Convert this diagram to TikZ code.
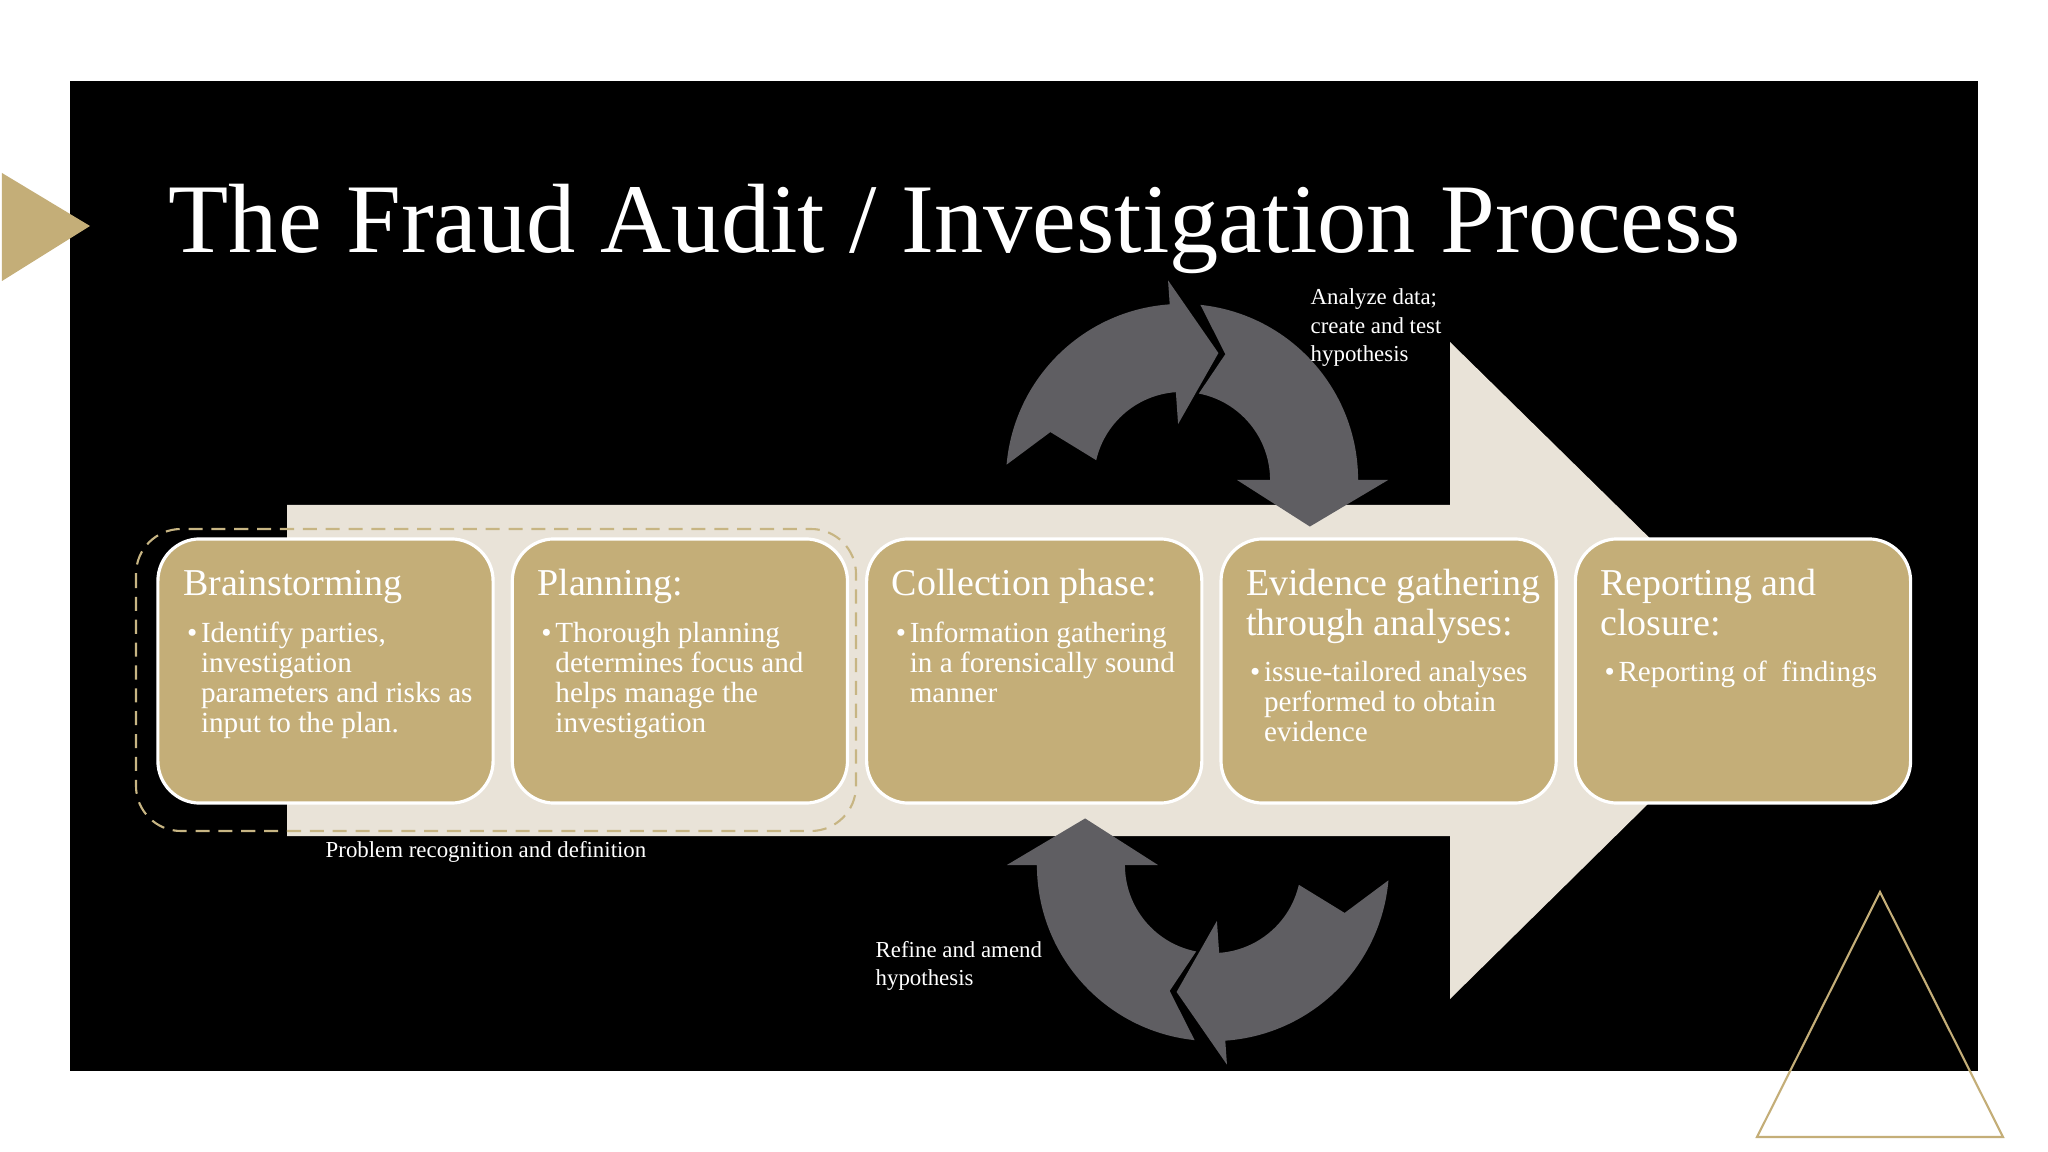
\documentclass[tikz,border=0pt]{standalone}
\usepackage{fontspec}
\setmainfont{Liberation Serif}
\usetikzlibrary{positioning}
\definecolor{gold}{HTML}{C4AE78}
\definecolor{cream}{HTML}{E9E3D8}
\definecolor{cyclegray}{HTML}{5F5E62}
\definecolor{dashgold}{HTML}{C7B583}
\newcommand{\bulletlines}[1]{\makebox[0.14cm][l]{\textbullet}\parbox[t]{3cm}{#1}}

\begin{document}
\begin{tikzpicture}[
        x=0.01cm, y=-0.01cm,
        node distance=0.16cm,
        stagebox/.style={draw=white, line width=0.9pt, fill=gold, rounded corners=0.42cm, minimum width=3.35cm, minimum height=2.64cm, inner sep=0pt},
        stagetitle/.style={anchor=base west, inner sep=0pt, text=white, font=\fontsize{10.8}{11.4}\selectfont},
        stagebody/.style={anchor=base west, inner sep=0pt, text=white, font=\fontsize{8.3}{8.5}\selectfont},
        smalllabel/.style={anchor=base west, inner sep=0pt, text=white, font=\fontsize{6.5}{8}\selectfont},
        cyclearrow/.style={fill=cyclegray}
        ]
        \useasboundingbox (0,0) rectangle (2048,1152);
        \fill[white] (0,0) rectangle (2048,1152);
        \fill[black] (70,81) rectangle (1978,1071);
        \fill[gold] (2,173) -- (90,226) -- (2,281) -- cycle;
        \draw[gold, line width=0.6pt] (1880,892) -- (2003,1137) -- (1757,1137) -- cycle;
        % big process arrow
        \fill[cream] (287,505) -- (1450,505) -- (1450,342) -- (1784,670) -- (1450,999) -- (1450,836) -- (287,836) -- cycle;

        % cycle arrows above and below
        \foreach \cx/\cy/\rot in {1182/480/0, 1213/865/180}{
            \begin{scope}[shift={(\cx,\cy)}, rotate=\rot]
                \fill[cyclearrow] (175:1.76cm) arc[start angle=175, end angle=94, radius=1.76cm] -- (94:2.0cm) -- (74:1.32cm) -- (94:0.56cm) -- (94:0.88cm) arc[start angle=94, end angle=167, radius=0.88cm] -- (160:1.40cm) -- cycle;
                \fill[cyclearrow] (84:1.76cm) arc[start angle=84, end angle=0, radius=1.76cm] -- (0:2.06cm) -- (-20:1.36cm) -- (0:0.55cm) -- (0:0.88cm) arc[start angle=0, end angle=79, radius=0.88cm] -- (71:1.33cm) -- cycle;
            \end{scope}
        }

        \draw[dashgold, line width=0.6pt, dash pattern=on 4pt off 2.5pt, rounded corners=0.45cm] (136,529) rectangle (856,831);

        \node[anchor=base west, inner sep=0pt, text=white, font=\fontsize{28}{30}\selectfont] (title) at (168,253) {The Fraud Audit / Investigation Process};

        \node[stagebox] (brain) at (325.5,671) {};
        \node[stagebox, right=of brain] (plan) {};
        \node[stagebox, right=of plan] (collect) {};
        \node[stagebox, right=of collect] (evidence) {};
        \node[stagebox, right=of evidence] (report) {};

        \node[stagetitle] (braintitle) at ([shift={(26,58)}]brain.north west) {Brainstorming};
        \node[stagebody] (brainbody) at ([shift={(30,105)}]brain.north west) {\bulletlines{Identify parties,\\investigation\\parameters and risks as\\input to the plan.}};
        \node[stagetitle] (plantitle) at ([shift={(26,58)}]plan.north west) {Planning:};
        \node[stagebody] (planbody) at ([shift={(30,105)}]plan.north west) {\bulletlines{Thorough planning\\determines focus and\\helps manage the\\investigation}};
        \node[stagetitle] (collecttitle) at ([shift={(26,58)}]collect.north west) {Collection phase:};
        \node[stagebody] (collectbody) at ([shift={(30,105)}]collect.north west) {\bulletlines{Information gathering\\in a forensically sound\\manner}};
        \node[stagetitle] (evidencetitle) at ([shift={(26,58)}]evidence.north west) {\parbox[t]{3.2cm}{Evidence gathering\\through analyses:}};
        \node[stagebody] (evidencebody) at ([shift={(30,144)}]evidence.north west) {\bulletlines{issue-tailored analyses\\performed to obtain\\evidence}};
        \node[stagetitle] (reporttitle) at ([shift={(26,58)}]report.north west) {\parbox[t]{3.2cm}{Reporting and\\closure:}};
        \node[stagebody] (reportbody) at ([shift={(30,144)}]report.north west) {\bulletlines{Reporting of~ findings}};

        \node[smalllabel] (analyze) at (1310,305) {\parbox[t]{2cm}{Analyze data;\\create and test\\hypothesis}};
        \node[smalllabel] (problem) at (325,857) {Problem recognition and definition};
        \node[smalllabel] (refine) at (875,957) {\parbox[t]{2cm}{Refine and amend\\hypothesis}};
    \end{tikzpicture}
\end{document}
